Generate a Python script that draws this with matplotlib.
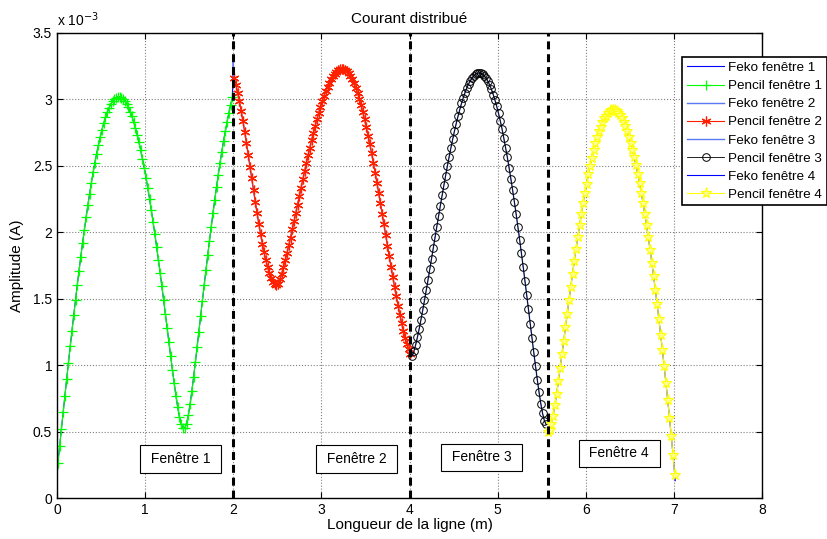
import numpy as np
import matplotlib
matplotlib.use('Agg')
import matplotlib.pyplot as plt
from matplotlib.ticker import FuncFormatter

plt.rcParams['font.family'] = ['Liberation Sans', 'DejaVu Sans']

# current amplitude (units of 1e-3 A), one sample every 0.02 m
x1_start, x1_end = 0.01, 1.99
pencil1 = [0.26, 0.39, 0.52, 0.645, 0.771, 0.896, 1.019, 1.141, 1.260, 1.377, 1.491, 1.603,
           1.712, 1.817, 1.919, 2.017, 2.112, 2.203, 2.290, 2.373, 2.451, 2.525, 2.593, 2.657,
           2.716, 2.771, 2.820, 2.864, 2.903, 2.936, 2.964, 2.986, 3.002, 3.014, 3.019,
           3.019, 3.014, 3.003, 2.987, 2.966, 2.940, 2.909, 2.873, 2.831, 2.785, 2.734, 2.678,
           2.617, 2.552, 2.484, 2.411, 2.333, 2.252, 2.167, 2.078, 1.987, 1.892, 1.795, 1.695,
           1.593, 1.489, 1.384, 1.278, 1.172, 1.067, 0.963, 0.863, 0.768, 0.682, 0.608, 0.554,
           0.524,
           0.525, 0.560, 0.622, 0.706, 0.804, 0.910, 1.022, 1.137, 1.253, 1.370, 1.486, 1.601,
           1.715, 1.826, 1.936, 2.041, 2.145, 2.244, 2.341, 2.434, 2.523, 2.607, 2.687, 2.761,
           2.832, 2.898, 2.959, 3.015]

x2_start, x2_end = 2.01, 4.01
pencil2 = [3.163, 3.111, 3.051, 2.985, 2.913, 2.836, 2.755, 2.670, 2.583, 2.494, 2.406, 2.317,
           2.230, 2.145, 2.064, 1.987, 1.915, 1.849, 1.789, 1.737, 1.693, 1.656, 1.629, 1.610,
           1.601,
           1.611, 1.645, 1.688, 1.736, 1.788, 1.843, 1.901, 1.960, 2.021, 2.083, 2.146, 2.209,
           2.273, 2.335, 2.398, 2.460, 2.521, 2.580, 2.638, 2.696, 2.750, 2.803, 2.852, 2.899,
           2.944, 2.987, 3.026, 3.062, 3.095, 3.124, 3.150, 3.173, 3.191, 3.207, 3.218, 3.226,
           3.230,
           3.230, 3.224, 3.214, 3.198, 3.178, 3.153, 3.124, 3.089, 3.050, 3.006, 2.957, 2.905,
           2.850, 2.789, 2.728, 2.663, 2.594, 2.522, 2.449, 2.373, 2.297, 2.218, 2.139, 2.059,
           1.979, 1.900, 1.821, 1.742, 1.666, 1.591, 1.518, 1.448, 1.381, 1.318, 1.260, 1.206,
           1.159, 1.118, 1.087]

x3_start, x3_end = 4.03, 5.55
pencil3 = [1.070, 1.104, 1.153, 1.211, 1.274, 1.342, 1.413, 1.487, 1.564, 1.641, 1.721, 1.801,
           1.882, 1.962, 2.043, 2.122, 2.200, 2.277, 2.353, 2.427, 2.499, 2.569, 2.636, 2.700,
           2.761, 2.818, 2.872, 2.922, 2.970, 3.012, 3.052, 3.086, 3.116, 3.141, 3.163, 3.178,
           3.190, 3.197, 3.200,
           3.197, 3.190, 3.177, 3.159, 3.136, 3.108, 3.075, 3.037, 2.994, 2.947, 2.895, 2.839,
           2.778, 2.709, 2.638, 2.564, 2.486, 2.404, 2.318, 2.229, 2.137, 2.041, 1.943, 1.842,
           1.739, 1.634, 1.528, 1.420, 1.312, 1.204, 1.097, 0.993, 0.891, 0.796, 0.710, 0.637,
           0.583, 0.554]

x4_start, x4_end = 5.57, 7.01
pencil4 = [0.500, 0.515, 0.556, 0.619, 0.697, 0.786, 0.881, 0.980, 1.081, 1.184, 1.286, 1.388,
           1.489, 1.590, 1.687, 1.782, 1.875, 1.965, 2.053, 2.136, 2.217, 2.293, 2.366, 2.435,
           2.500, 2.562, 2.617, 2.669, 2.716, 2.759, 2.795, 2.829, 2.857, 2.879, 2.897, 2.910,
           2.917, 2.920,
           2.917, 2.910, 2.897, 2.880, 2.858, 2.830, 2.798, 2.761, 2.719, 2.673, 2.621, 2.565,
           2.505, 2.440, 2.371, 2.297, 2.220, 2.138, 2.052, 1.962, 1.868, 1.771, 1.669, 1.565,
           1.457, 1.345, 1.230, 1.112, 0.990, 0.865, 0.737, 0.604, 0.467, 0.325, 0.174]

# Feko curves follow the pencil ones, plus the few end points where they stick out
feko1_head = (0.0, 0.13)
junction12 = (2.0, 3.28)
feko4_tail = (7.015, 0.13)

boundaries = [2.0, 4.0, 5.57]
window_labels = ['Fenêtre 1', 'Fenêtre 2', 'Fenêtre 3', 'Fenêtre 4']
window_label_pos = [(1.40, 0.293), (3.40, 0.293), (4.82, 0.305), (6.38, 0.335)]

scale = 1e-3

x1 = np.linspace(x1_start, x1_end, len(pencil1))
x2 = np.linspace(x2_start, x2_end, len(pencil2))
x3 = np.linspace(x3_start, x3_end, len(pencil3))
x4 = np.linspace(x4_start, x4_end, len(pencil4))
y1 = np.array(pencil1) * scale
y2 = np.array(pencil2) * scale
y3 = np.array(pencil3) * scale
y4 = np.array(pencil4) * scale

feko1_x = np.concatenate([[feko1_head[0]], x1, [junction12[0]]])
feko1_y = np.concatenate([[feko1_head[1] * scale], y1, [junction12[1] * scale]])
feko2_x = np.concatenate([[junction12[0]], x2])
feko2_y = np.concatenate([[junction12[1] * scale], y2])
feko4_x = np.concatenate([x4, [feko4_tail[0]]])
feko4_y = np.concatenate([y4, [feko4_tail[1] * scale]])

fig = plt.figure(figsize=(8.27, 5.39), dpi=100)
ax = fig.add_axes([57 / 827, 41 / 539, 705 / 827, 465 / 539])

asterisk = (6, 2, 0)  # matlab-like '*' marker

ax.plot(feko1_x, feko1_y, color='#0000ff', lw=0.8, label='Feko fenêtre 1')
ax.plot(x1, y1, color='#00ff00', lw=0.8, marker='+', ms=7, mew=0.9, label='Pencil fenêtre 1')
ax.plot(feko2_x, feko2_y, color='#5a78f0', lw=1.0, label='Feko fenêtre 2')
ax.plot(x2, y2, color='#ff2000', lw=0.8, marker=asterisk, ms=7, mew=0.9, label='Pencil fenêtre 2')
ax.plot(x3, y3, color='#5a78f0', lw=1.0, label='Feko fenêtre 3')
ax.plot(x3, y3, color='black', lw=0.6, marker='o', ms=5.5, mfc='none', mew=0.7,
        label='Pencil fenêtre 3')
ax.plot(feko4_x, feko4_y, color='#0000ff', lw=0.8, label='Feko fenêtre 4')
ax.plot(x4, y4, color='#ffff00', lw=0.8, marker='*', ms=8, mfc='#ffff90', mew=0.8,
        label='Pencil fenêtre 4')

for xb in boundaries:
    ax.plot([xb, xb], [0, 3.5e-3], color='black', lw=2.2, dashes=(2.6, 1.6))

for txt, (tx, ty) in zip(window_labels, window_label_pos):
    ax.text(tx, ty * scale, ' ' + txt + ' ', ha='center', va='center', fontsize=10,
            bbox=dict(boxstyle='square,pad=0.5', fc='white', ec='black', lw=0.8))

ax.set_xlim(0, 8)
ax.set_ylim(0, 3.5e-3)
ax.set_xticks(range(0, 9))
ax.set_yticks(np.arange(0, 3.51e-3, 0.5e-3))
ax.yaxis.set_major_formatter(FuncFormatter(lambda v, p: '%g' % round(v / scale, 3)))
ax.tick_params(direction='in', top=True, right=True, labelsize=10, length=4, width=0.8)
ax.grid(True, linestyle=':', color='0.5', lw=0.8)
for s in ax.spines.values():
    s.set_linewidth(1.0)

ax.text(0.0, 1.008, r'x 10$^{-3}$', transform=ax.transAxes, fontsize=10, ha='left', va='bottom')
ax.set_title('Courant distribué', fontsize=11, pad=7)
ax.set_xlabel('Longueur de la ligne (m)', fontsize=11, labelpad=1)
ax.set_ylabel('Amplitude (A)', fontsize=11, labelpad=6)

leg = ax.legend(loc='upper left', bbox_to_anchor=(682 / 827, 1 - 57 / 539),
                bbox_transform=fig.transFigure, fontsize=9.7, frameon=True, fancybox=False,
                edgecolor='black', framealpha=1, borderaxespad=0, borderpad=0.35,
                handlelength=2.8, handletextpad=0.3, labelspacing=0.42, numpoints=1)
leg.get_frame().set_linewidth(1.2)

plt.savefig('out.png', dpi=100)
